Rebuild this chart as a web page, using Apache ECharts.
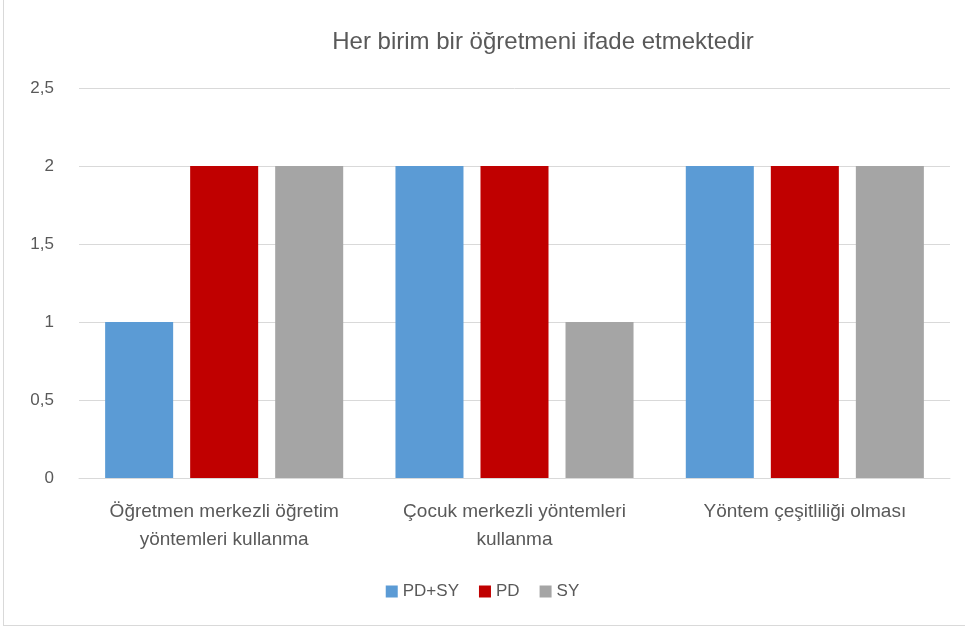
<!DOCTYPE html>
<html><head><meta charset="utf-8">
<script src="https://cdn.jsdelivr.net/npm/echarts@6/dist/echarts.min.js"></script>
<style>html,body{margin:0;padding:0;background:#fff}#c{width:965px;height:632px}
#frame{position:absolute;left:3px;top:-2px;width:980px;height:628px;border:1px solid #d9d9d9;box-sizing:border-box;pointer-events:none}</style>
</head><body><div id="c"></div><div id="frame"></div>
<script>
const categories = ['Öğretmen merkezli öğretim\nyöntemleri kullanma', 'Çocuk merkezli yöntemleri\nkullanma', 'Yöntem çeşitliliği olması'];
const seriesNames = ['PD+SY', 'PD', 'SY'];
const pdsy = [1, 2, 2];
const pd = [2, 2, 2];
const sy = [2, 1, 2];
const colors = ['#5B9BD5', '#C00000', '#A5A5A5'];
const font = "'Liberation Sans', Arial, sans-serif";
const chart = echarts.init(document.getElementById('c'));
chart.setOption({
  animation: false,
  title: { text: 'Her birim bir öğretmeni ifade etmektedir', left: 538, textAlign: 'center', top: 25,
    textStyle: { fontFamily: font, fontSize: 24, fontWeight: 'normal', color: '#595959' } },
  grid: { left: 79, right: 15, top: 88, bottom: 154, containLabel: false },
  legend: { bottom: 27, left: 'center', itemWidth: 12, itemHeight: 12, itemGap: 20, icon: 'rect',
    textStyle: { fontFamily: font, fontSize: 17, color: '#595959' }, data: seriesNames },
  xAxis: { type: 'category', data: categories,
    axisLine: { lineStyle: { color: '#d9d9d9', width: 1 } }, axisTick: { show: false },
    axisLabel: { fontFamily: font, fontSize: 19, color: '#595959', margin: 20, lineHeight: 28, interval: 0 } },
  yAxis: { type: 'value', min: 0, max: 2.5, interval: 0.5,
    axisLine: { show: false }, axisTick: { show: false },
    splitLine: { lineStyle: { color: '#d9d9d9', width: 1 } },
    axisLabel: { fontFamily: font, fontSize: 17, color: '#595959', margin: 25,
      formatter: v => String(v).replace('.', ',') } },
  series: [
    { name: seriesNames[0], type: 'bar', data: pdsy, itemStyle: { color: colors[0] }, barGap: '25%', barCategoryGap: '18%' },
    { name: seriesNames[1], type: 'bar', data: pd, itemStyle: { color: colors[1] } },
    { name: seriesNames[2], type: 'bar', data: sy, itemStyle: { color: colors[2] } }
  ]
});
</script></body></html>
